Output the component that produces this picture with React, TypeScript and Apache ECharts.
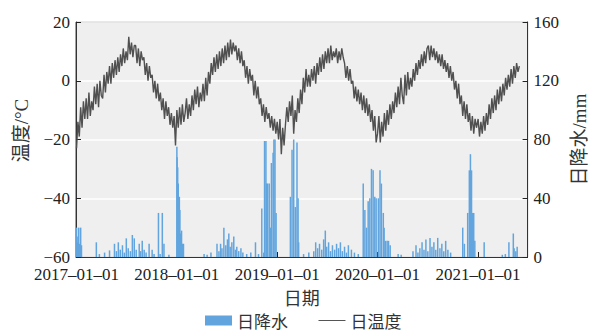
import { useEffect, useRef } from 'react';
import * as echarts from 'echarts';

// Daily mean temperature (°C), one reading every 5 days starting on 1 January of each year
const TEMP_STEP_DAYS = 5;
const temp2017 = [
  -23, -14, -19, -9, -16, -7, -13,
  -6, -13, -4, -12, -7,
  -10, -2, -8, -1, -9, 0, -5,
  -6, 2, -4, 3, -1,
  5, -1, 6, 1, 7, 2, 8,
  3, 9, 5, 11, 6, 10,
  7, 15, 9, 13, 8, 12,
  12, 6, 11, 5, 10, 7,
  8, 2, 6, 0, 5, 1,
  2, -4, 0, -6, -1, -7,
  -4, -10, -6, -13, -7, -12,
  -9, -15, -11, -16, -12, -22,
];
const temp2018 = [
  -10, -16, -9, -15, -8, -14, -11,
  -6, -13, -8, -12, -5,
  -10, -3, -8, -2, -9, -4, -7,
  -1, -7, 1, -5, 3,
  -1, 6, 2, 8, 3, 9, 4,
  10, 5, 11, 6, 12, 7,
  13, 8, 14, 9, 13, 10,
  12, 7, 11, 6, 10, 5,
  7, 1, 5, -1, 4, 0,
  2, -5, 0, -6, -2, -8,
  -6, -12, -8, -14, -9, -13,
  -11, -16, -12, -17, -13, -18,
];
const temp2019 = [
  -14, -20, -13, -25, -16, -22, -15,
  -9, -14, -7, -12, -5,
  -18, -10, -14, -6, -11, -3, -8,
  1, -4, 4, -2, 2,
  -2, 4, 0, 5, -1, 6, 2,
  8, 3, 9, 4, 10, 6,
  11, 6, 12, 7, 10, 8,
  11, 6, 10, 7, 11, 8,
  6, 1, 5, 0, 4, -1,
  0, -6, -2, -7, -3, -8,
  -4, -10, -5, -11, -6, -12,
  -8, -14, -10, -17, -12, -21,
];
const temp2020 = [
  -18, -12, -21, -14, -19, -11, -17,
  -10, -15, -8, -13, -7,
  -11, -4, -9, -2, -8, 1, -5,
  -8, 2, -5, 3, -3,
  1, -2, 4, 0, 6, 2, 7,
  4, 9, 5, 10, 6, 11,
  12, 7, 12, 8, 11, 7,
  10, 6, 9, 5, 9, 4,
  7, 3, 6, 1, 5, 0,
  3, -3, 0, -6, -1, -8,
  -5, -12, -7, -13, -8, -14,
  -11, -17, -12, -18, -13, -16,
];
const temp2021 = [
  -13, -19, -14, -18, -12, -17, -11,
  -15, -8, -13, -6, -11,
  -5, -10, -3, -8, -2, -7, -1,
  -5, 1, -3, 2, -2,
  4, -1, 5, 1, 6, 3, 5,
];

// Daily precipitation (mm) on rainy days
const rain2017: [string, number][] = [
  ['2017-01-01', 20], ['2017-01-03', 14], ['2017-01-05', 10], ['2017-01-09', 20], ['2017-01-12', 9],
  ['2017-01-16', 20], ['2017-01-19', 8], ['2017-03-14', 10], ['2017-03-25', 2], ['2017-04-13', 3],
  ['2017-05-01', 4.5], ['2017-05-19', 9], ['2017-05-26', 4], ['2017-06-02', 10], ['2017-06-09', 5],
  ['2017-06-17', 8], ['2017-06-24', 3], ['2017-07-01', 12.7], ['2017-07-08', 6], ['2017-07-16', 4],
  ['2017-07-23', 15], ['2017-07-30', 12.7], ['2017-08-06', 5], ['2017-08-17', 9], ['2017-08-22', 4],
  ['2017-08-28', 11], ['2017-09-04', 5], ['2017-09-11', 3], ['2017-09-22', 9], ['2017-10-03', 5],
  ['2017-10-10', 2], ['2017-10-26', 30], ['2017-11-01', 2], ['2017-11-09', 30], ['2017-11-15', 9],
  ['2017-12-03', 1.5],
];
const rain2018: [string, number][] = [
  ['2018-01-01', 75], ['2018-01-02', 68], ['2018-01-04', 61], ['2018-01-06', 50], ['2018-01-08', 40],
  ['2018-01-10', 41], ['2018-01-12', 32], ['2018-01-15', 16], ['2018-01-18', 18], ['2018-01-22', 9],
  ['2018-01-25', 9], ['2018-04-10', 2], ['2018-04-21', 1.5], ['2018-05-05', 3], ['2018-05-27', 9],
  ['2018-06-03', 4], ['2018-06-09', 9], ['2018-06-14', 6], ['2018-06-21', 20], ['2018-06-28', 8],
  ['2018-07-04', 12], ['2018-07-09', 16], ['2018-07-14', 7], ['2018-07-20', 10], ['2018-07-27', 14],
  ['2018-08-02', 5], ['2018-08-07', 7], ['2018-08-14', 4], ['2018-08-22', 6], ['2018-08-29', 3],
  ['2018-09-12', 2], ['2018-09-27', 3], ['2018-10-14', 10], ['2018-10-25', 2], ['2018-11-06', 33],
  ['2018-11-13', 3], ['2018-11-16', 79], ['2018-11-21', 79], ['2018-11-24', 50], ['2018-11-27', 50],
  ['2018-12-03', 50], ['2018-12-08', 20], ['2018-12-11', 64], ['2018-12-17', 71], ['2018-12-20', 80],
  ['2018-12-24', 80], ['2018-12-28', 30],
];
const rain2019: [string, number][] = [
  ['2019-02-18', 41], ['2019-02-24', 73], ['2019-03-02', 80], ['2019-03-08', 34], ['2019-03-14', 78],
  ['2019-03-18', 40], ['2019-03-20', 10], ['2019-04-07', 2], ['2019-04-26', 3], ['2019-05-14', 4],
  ['2019-05-21', 10], ['2019-05-28', 6], ['2019-06-04', 9], ['2019-06-12', 5], ['2019-06-19', 12],
  ['2019-06-25', 18], ['2019-06-30', 7], ['2019-07-07', 10], ['2019-07-14', 4], ['2019-07-21', 8],
  ['2019-07-29', 5], ['2019-08-05', 9], ['2019-08-12', 6], ['2019-08-19', 10], ['2019-08-26', 4],
  ['2019-09-03', 7], ['2019-09-10', 3], ['2019-09-17', 8], ['2019-09-28', 5], ['2019-10-09', 3],
  ['2019-10-23', 2], ['2019-11-10', 50], ['2019-11-16', 32], ['2019-11-22', 20], ['2019-11-28', 38],
  ['2019-12-04', 40], ['2019-12-10', 60], ['2019-12-16', 59], ['2019-12-22', 41], ['2019-12-27', 40],
];
const rain2020: [string, number][] = [
  ['2020-01-04', 40], ['2020-01-10', 59], ['2020-01-15', 50], ['2020-01-22', 30], ['2020-01-25', 20],
  ['2020-01-30', 11], ['2020-02-05', 11], ['2020-02-10', 11], ['2020-02-16', 8], ['2020-03-16', 2],
  ['2020-03-27', 1.5], ['2020-05-09', 4], ['2020-05-20', 8], ['2020-05-27', 3], ['2020-06-03', 6],
  ['2020-06-11', 10], ['2020-06-18', 5], ['2020-06-25', 12], ['2020-07-02', 4], ['2020-07-10', 13],
  ['2020-07-17', 7], ['2020-07-24', 10], ['2020-07-31', 5], ['2020-08-07', 13], ['2020-08-15', 6],
  ['2020-08-22', 9], ['2020-08-29', 4], ['2020-09-05', 11], ['2020-09-13', 5], ['2020-09-23', 3],
  ['2020-11-06', 20], ['2020-11-12', 9], ['2020-11-24', 30], ['2020-11-30', 59], ['2020-12-04', 70],
  ['2020-12-08', 59], ['2020-12-12', 30], ['2020-12-16', 30], ['2020-12-20', 11],
];
const rain2021: [string, number][] = [
  ['2021-01-23', 10], ['2021-03-30', 1.5], ['2021-04-10', 2], ['2021-04-23', 10], ['2021-05-09', 16],
  ['2021-05-12', 6], ['2021-05-18', 4], ['2021-05-23', 7],
];

const yearStarts = ['2017-01-01', '2018-01-01', '2019-01-01', '2020-01-01', '2021-01-01'];

const tempMin = -60;
const tempMax = 20;
const tempInterval = 20;
const rainMin = 0;
const rainMax = 160;
const rainInterval = 40;

const SERIF = '"Liberation Serif", "Noto Sans CJK SC", serif';
const CJK = '"Noto Sans CJK SC", "Liberation Serif", sans-serif';

function toTime(s: string) {
  const [y, m, d] = s.split('-').map(Number);
  return new Date(y, m - 1, d).getTime();
}

function pad(n: number) {
  return n < 10 ? '0' + n : String(n);
}

function yearPoints(year: number, values: number[]) {
  return values.map((v, i) => [new Date(year, 0, 1 + TEMP_STEP_DAYS * i).getTime(), v]);
}

export default function App() {
  const ref = useRef<HTMLDivElement>(null);

  useEffect(() => {
    if (!ref.current) return;
    const chart = echarts.init(ref.current, undefined, { renderer: 'svg' });

    const tempData = [
      ...yearPoints(2017, temp2017),
      ...yearPoints(2018, temp2018),
      ...yearPoints(2019, temp2019),
      ...yearPoints(2020, temp2020),
      ...yearPoints(2021, temp2021),
    ];
    const rainData = [...rain2017, ...rain2018, ...rain2019, ...rain2020, ...rain2021].map(
      ([d, v]) => [toTime(d), v]
    );
    const tickValues = yearStarts.map(toTime);

    chart.setOption({
      animation: false,
      grid: {
        left: 76,
        right: 66,
        top: 22,
        bottom: 76,
        show: true,
        backgroundColor: '#efefef',
        borderColor: '#444',
        borderWidth: 1,
      },
      legend: {
        left: 205,
        top: 312,
        padding: 0,
        itemWidth: 27,
        itemHeight: 10,
        itemGap: 30,
        textStyle: { fontFamily: CJK, fontSize: 17, color: '#333' },
        data: [
          { name: '日降水', icon: 'rect' },
          { name: '日温度', itemStyle: { opacity: 0 }, lineStyle: { width: 1, color: '#555' } },
        ],
      },
      xAxis: {
        type: 'value',
        min: toTime('2016-12-30'),
        max: toTime('2021-06-30'),
        name: '日期',
        nameLocation: 'middle',
        nameGap: 29,
        nameTextStyle: { fontFamily: CJK, fontSize: 18, color: '#333' },
        axisLine: { onZero: false, lineStyle: { color: '#333', width: 1 } },
        axisTick: { inside: true, length: 5, lineStyle: { color: '#222' }, customValues: tickValues },
        axisLabel: {
          customValues: tickValues,
          margin: 9,
          fontFamily: SERIF,
          fontSize: 17,
          color: '#222',
          formatter: (v: number) => {
            const d = new Date(v);
            return `${d.getFullYear()}\u2013${pad(d.getMonth() + 1)}\u2013${pad(d.getDate())}`;
          },
        },
        splitLine: { show: false },
      },
      yAxis: [
        {
          type: 'value',
          min: tempMin,
          max: tempMax,
          interval: tempInterval,
          name: '温度/°C',
          nameLocation: 'middle',
          nameRotate: 90,
          nameGap: 45,
          nameTextStyle: { fontFamily: SERIF, fontSize: 19, color: '#333', padding: [0, 0, 0, 18] },
          axisLine: { show: true, onZero: false, lineStyle: { color: '#333' } },
          axisTick: { show: true, inside: true, length: 5, lineStyle: { color: '#222' } },
          axisLabel: {
            margin: 6,
            fontFamily: SERIF,
            fontSize: 17,
            color: '#222',
            formatter: (v: number) => (v < 0 ? '\u2212' + Math.abs(v) : String(v)),
          },
          splitLine: { show: true, lineStyle: { color: '#ffffff', width: 1.5 } },
        },
        {
          type: 'value',
          position: 'right',
          min: rainMin,
          max: rainMax,
          interval: rainInterval,
          name: '日降水/mm',
          nameLocation: 'middle',
          nameRotate: 90,
          nameGap: 37,
          nameTextStyle: { fontFamily: SERIF, fontSize: 19, color: '#333' },
          axisLine: { show: true, onZero: false, lineStyle: { color: '#333' } },
          axisTick: { show: true, inside: true, length: 5, lineStyle: { color: '#222' } },
          axisLabel: { margin: 6, fontFamily: SERIF, fontSize: 17, color: '#222' },
          splitLine: { show: false },
        },
      ],
      series: [
        {
          name: '日降水',
          type: 'bar',
          yAxisIndex: 1,
          barWidth: 1.5,
          itemStyle: { color: '#62a5de' },
          data: rainData,
        },
        {
          name: '日温度',
          type: 'line',
          yAxisIndex: 0,
          symbol: 'none',
          lineStyle: { color: '#505050', width: 1.4 },
          itemStyle: { color: '#505050' },
          data: tempData,
        },
      ],
    });

    return () => chart.dispose();
  }, []);

  return (
    <div
      ref={ref}
      style={{ position: 'fixed', left: 0, top: 0, width: 597, height: 333, background: '#fff' }}
    />
  );
}
